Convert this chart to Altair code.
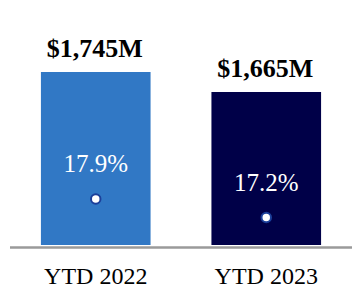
import altair as alt
import pandas as pd

periods = ["YTD 2022", "YTD 2023"]
revenue = [1745, 1665]
revenue_labels = ["$1,745M", "$1,665M"]
margin_pct = [17.9, 17.2]
margin_labels = ["17.9%", "17.2%"]
bar_colors = ["#3178c5", "#000048"]

df = pd.DataFrame({
    "period": periods,
    "revenue": revenue,
    "rev_label": revenue_labels,
    "pct": margin_pct,
    "pct_label": margin_labels,
})

FONT = "Liberation Serif"

x = alt.X("period:N", sort=periods,
          scale=alt.Scale(paddingInner=0.357, paddingOuter=0.24),
          axis=alt.Axis(title=None, labelAngle=0, labelFont=FONT, labelFontSize=24,
                        labelColor="#000000", ticks=False, domain=False, grid=False,
                        labelPadding=19))

REV_MIN = 1053
rev_scale = alt.Scale(domain=[REV_MIN, 2033], zero=False, nice=False)
pct_scale = alt.Scale(domain=[16.16, 25.43], zero=False, nice=False)

rev_y = alt.Y("revenue:Q", scale=rev_scale, axis=None)
pct_y = alt.Y("pct:Q", scale=pct_scale, axis=None)

bars = alt.Chart(df).mark_bar().encode(
    x=x,
    y=rev_y,
    y2=alt.datum(REV_MIN),
    color=alt.Color("period:N", scale=alt.Scale(domain=periods, range=bar_colors), legend=None),
)

rev_text = alt.Chart(df).mark_text(font=FONT, fontSize=26, fontWeight="bold", color="#000000",
                                   baseline="alphabetic", dy=-15, dx=-1).encode(
    x=x, y=rev_y, text="rev_label:N",
)

dots = alt.Chart(df).mark_point(filled=True, fill="#ffffff", stroke="#1b3f9a", strokeWidth=2,
                                size=90, opacity=1, shape="circle").encode(
    x=x, y=pct_y,
)

pct_text = alt.Chart(df).mark_text(font=FONT, fontSize=25, color="#ffffff",
                                   baseline="alphabetic", dy=-27).encode(
    x=x, y=pct_y, text="pct_label:N",
)

base_line = alt.Chart(df).mark_rule(color="#9a9a9a", strokeWidth=2).encode(
    x=alt.value(10), x2=alt.value(352), y=alt.value(247.5)
)

chart = alt.layer(
    bars, rev_text, dots, pct_text, base_line,
).resolve_scale(y="independent").properties(
    width=362, height=245, padding=0, background="#ffffff"
).configure_view(strokeWidth=0)

chart.save("out.html", embed_options={"renderer": "svg", "actions": False})
